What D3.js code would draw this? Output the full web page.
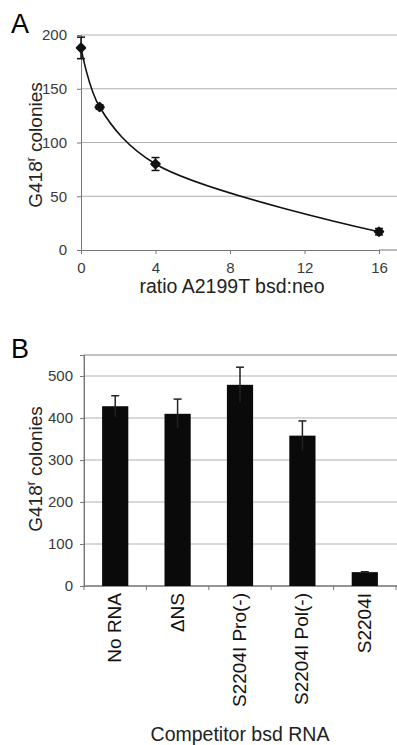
<!DOCTYPE html>
<html>
<head>
<meta charset="utf-8">
<script src="https://cdn.jsdelivr.net/npm/d3@7"></script>
<style>
  body { margin: 0; background: #fff; }
  svg { font-family: "Liberation Sans", Arial, Helvetica, sans-serif; }
</style>
</head>
<body>
<div id="chart"></div>
<script>
// Panel A data: ratio vs colonies
const ratios = [0, 1, 4, 16];
const colonies = [188, 133, 80, 17];
const coloniesErr = [10, 2, 6, 3];
const xTicksA = [0, 4, 8, 12, 16];
const yTicksA = [0, 50, 100, 150, 200];

// Panel B data: competitor RNA
const competitors = ["No RNA", "\u0394NS", "S2204I Pro(-)", "S2204I Pol(-)", "S2204I"];
const competitorColonies = [428, 410, 479, 358, 33];
const competitorErr = [25, 35, 42, 35, 1];
const yTicksB = [0, 100, 200, 300, 400, 500];

const svg = d3.select("#chart").append("svg")
    .attr("width", 397)
    .attr("height", 745);

function styleAxis(g) {
    g.select(".domain").attr("stroke", "#777");
    g.selectAll(".tick line").attr("stroke", "#777");
    g.selectAll("text").attr("font-size", "15px").attr("fill", "#3a3a3a")
        .attr("font-family", "Liberation Sans, Arial, sans-serif");
}

function yTitle(x, y) {
    const t = svg.append("text")
        .attr("transform", `translate(${x},${y}) rotate(-90)`)
        .attr("text-anchor", "middle")
        .attr("font-size", "19px").attr("fill", "#222");
    t.append("tspan").text("G418");
    t.append("tspan").attr("font-size", "12px").attr("dy", "-7").text("r");
    t.append("tspan").attr("dy", "7").text(" colonies");
}

// ---------- Panel A ----------
const xA = d3.scaleLinear().domain([0, 16]).range([81, 379]);
const yA = d3.scaleLinear().domain([0, 200]).range([250, 35]);

svg.append("text")
    .attr("x", 11).attr("y", 33)
    .attr("font-size", "27px")
    .text("A");

const gA = svg.append("g");

// gridlines
gA.selectAll(".gridA")
    .data(yTicksA.filter(d => d > 0))
    .enter().append("line")
    .attr("x1", 81).attr("x2", 397)
    .attr("y1", d => yA(d)).attr("y2", d => yA(d))
    .attr("stroke", "#b0b0b0").attr("stroke-width", 1);

const yAxisA = gA.append("g")
    .attr("transform", "translate(81,0)")
    .call(d3.axisLeft(yA).tickValues(yTicksA).tickSize(4).tickPadding(10));
styleAxis(yAxisA);

const xAxisA = gA.append("g")
    .attr("transform", "translate(0,250)")
    .call(d3.axisBottom(xA).tickValues(xTicksA).tickSize(4).tickPadding(8));
styleAxis(xAxisA);
gA.append("line")
    .attr("x1", 379).attr("x2", 397).attr("y1", 250).attr("y2", 250)
    .attr("stroke", "#777");

svg.append("text")
    .attr("x", 232).attr("y", 293)
    .attr("text-anchor", "middle")
    .attr("font-size", "19.5px").attr("fill", "#222")
    .text("ratio A2199T bsd:neo");

yTitle(42, 145);

// curve
const ptsA = ratios.map((r, i) => [xA(r), yA(colonies[i])]);
gA.append("path")
    .attr("d", d3.line().curve(d3.curveCatmullRom.alpha(0.5))(ptsA))
    .attr("fill", "none").attr("stroke", "#111").attr("stroke-width", 1.6);

// error bars
ratios.forEach((r, i) => {
    const x = xA(r);
    const y1 = yA(colonies[i] + coloniesErr[i]);
    const y2 = yA(colonies[i] - coloniesErr[i]);
    gA.append("line").attr("x1", x).attr("x2", x).attr("y1", y1).attr("y2", y2)
        .attr("stroke", "#111").attr("stroke-width", 1.5);
    [y1, y2].forEach(y => {
        gA.append("line").attr("x1", x - 4).attr("x2", x + 4).attr("y1", y).attr("y2", y)
            .attr("stroke", "#111").attr("stroke-width", 1.5);
    });
});

// rounded diamond markers
gA.selectAll(".pt")
    .data(ptsA)
    .enter().append("path")
    .attr("transform", d => `translate(${d[0]},${d[1]})`)
    .attr("d", d3.symbol().type(d3.symbolDiamond2).size(40))
    .attr("fill", "#111")
    .attr("stroke", "#111").attr("stroke-width", 2.5).attr("stroke-linejoin", "round");

// ---------- Panel B ----------
const xB = d3.scaleBand().domain(competitors).range([84, 396]).paddingInner(0.58).paddingOuter(0.29);
const yB = d3.scaleLinear().domain([0, 550]).range([586, 355]);

svg.append("text")
    .attr("x", 11).attr("y", 358)
    .attr("font-size", "27px")
    .text("B");

const gB = svg.append("g");

gB.append("rect")
    .attr("x", 84).attr("y", 355)
    .attr("width", 314).attr("height", 586 - 355)
    .attr("fill", "none").attr("stroke", "#888");

gB.selectAll(".gridB")
    .data(yTicksB.filter(d => d > 0))
    .enter().append("line")
    .attr("x1", 84).attr("x2", 397)
    .attr("y1", d => yB(d)).attr("y2", d => yB(d))
    .attr("stroke", "#b0b0b0");

const yAxisB = gB.append("g")
    .attr("transform", "translate(84,0)")
    .call(d3.axisLeft(yB).tickValues(yTicksB).tickSize(4).tickPadding(7));
styleAxis(yAxisB);

// x axis line with ticks between categories
gB.append("line")
    .attr("x1", 84).attr("x2", 397).attr("y1", 586).attr("y2", 586)
    .attr("stroke", "#666");
const step = xB.step();
d3.range(competitors.length + 1).forEach(i => {
    const x = 84 + i * step;
    gB.append("line").attr("x1", x).attr("x2", x).attr("y1", 586).attr("y2", 590)
        .attr("stroke", "#777");
});

// bars
gB.selectAll(".bar")
    .data(competitors)
    .enter().append("rect")
    .attr("x", d => xB(d))
    .attr("y", (d, i) => yB(competitorColonies[i]))
    .attr("width", xB.bandwidth())
    .attr("height", (d, i) => yB(0) - yB(competitorColonies[i]))
    .attr("fill", "#0a0a0a");

// error bars
competitors.forEach((c, i) => {
    const x = xB(c) + xB.bandwidth() / 2;
    const yTop = yB(competitorColonies[i] + competitorErr[i]);
    const yBot = yB(competitorColonies[i] - competitorErr[i]);
    gB.append("line").attr("x1", x).attr("x2", x).attr("y1", yTop).attr("y2", yBot)
        .attr("stroke", "#222").attr("stroke-width", 1.5);
    gB.append("line").attr("x1", x - 4).attr("x2", x + 4).attr("y1", yTop).attr("y2", yTop)
        .attr("stroke", "#222").attr("stroke-width", 1.5);
});

// category labels (rotated)
gB.selectAll(".cat")
    .data(competitors)
    .enter().append("text")
    .attr("transform", d => `translate(${xB(d) + xB.bandwidth() / 2 + 6},593) rotate(-90)`)
    .attr("text-anchor", "end")
    .attr("font-size", "19px").attr("fill", "#111")
    .text(d => d);

svg.append("text")
    .attr("x", 240).attr("y", 741)
    .attr("text-anchor", "middle")
    .attr("font-size", "19.5px").attr("fill", "#222")
    .text("Competitor bsd RNA");

yTitle(42, 469);
</script>
</body>
</html>
